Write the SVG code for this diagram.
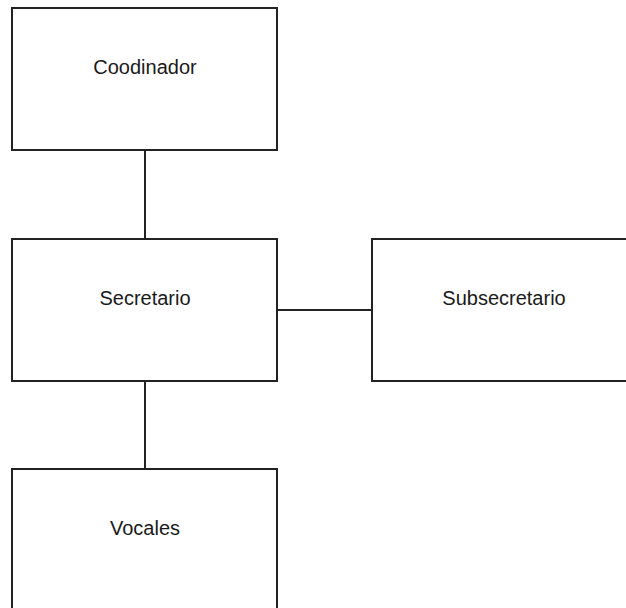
<svg xmlns="http://www.w3.org/2000/svg" width="626" height="608" viewBox="0 0 626 608">
<style>
.box{fill:#fff;stroke:#222;stroke-width:2}
.lbl{font-family:"Liberation Sans",Arial,sans-serif;font-size:20px;fill:#1a1a1a;text-anchor:middle}
.con{stroke:#222;stroke-width:2;fill:none}
</style>
<rect width="626" height="608" fill="#fff"/>
<g id="connectors">
<line class="con" x1="145" y1="150" x2="145" y2="239"/>
<line class="con" x1="277" y1="310" x2="372" y2="310"/>
<line class="con" x1="145" y1="381" x2="145" y2="469"/>
</g>
<g id="coodinador"><rect class="box" x="12" y="8" width="265" height="142"/><text class="lbl" x="145" y="74">Coodinador</text></g>
<g id="secretario"><rect class="box" x="12" y="239" width="265" height="142"/><text class="lbl" x="145" y="305">Secretario</text></g>
<g id="subsecretario"><rect class="box" x="372" y="239" width="265" height="142"/><text class="lbl" x="504" y="305">Subsecretario</text></g>
<g id="vocales"><rect class="box" x="12" y="469" width="265" height="150"/><text class="lbl" x="145" y="535">Vocales</text></g>
</svg>
